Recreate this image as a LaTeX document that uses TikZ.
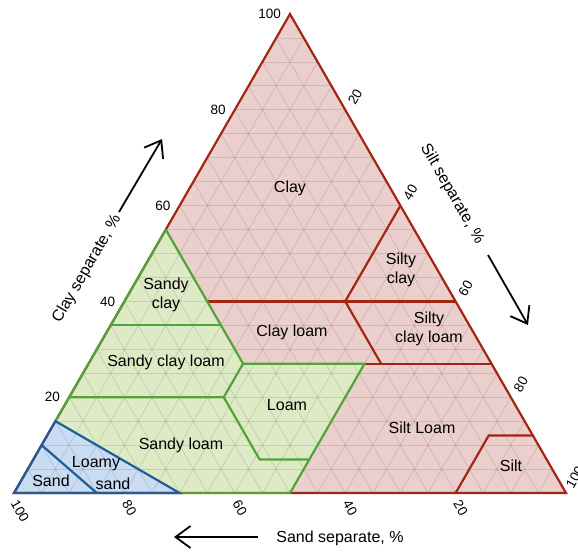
\documentclass[tikz,border=0pt]{standalone}
\usepackage{fontspec}
\setmainfont{Liberation Sans}
\usetikzlibrary{arrows.meta}
\definecolor{redfill}{HTML}{EBCFCC}
\definecolor{greenfill}{HTML}{DEEAC6}
\definecolor{bluefill}{HTML}{CADCF1}
\definecolor{redline}{HTML}{A32614}
\definecolor{greenline}{HTML}{52A43A}
\definecolor{blueline}{HTML}{1F5E98}
\newcommand\mkvtx[3]{\coordinate (#1) at ({bx(#2,#3)},{by(#2)});}
\begin{document}
\begin{tikzpicture}[x=1pt,y=-1pt,
  declare function={bx(\c,\t)=14+5.52*\t+2.76*\c; by(\c)=493-4.79*\c;},
  gridline/.style={line width=0.8pt, black, opacity=0.11},
  redb/.style={line width=2.2pt, redline},
  greenb/.style={line width=2.2pt, greenline},
  blueb/.style={line width=2.2pt, blueline},
  region/.style={font=\fontsize{16}{19}\selectfont, align=center, inner sep=0pt},
  tick/.style={font=\fontsize{13.5}{15}\selectfont, inner sep=0pt},
  axtitle/.style={font=\fontsize{16}{19}\selectfont, inner sep=0pt},
  axarrow/.style={line width=1.8pt, -{Straight Barb[length=15pt,width=22pt]}}]
\useasboundingbox (0,0) rectangle (578,552);
% vertices (clay, silt)
\mkvtx{BL}{0}{0}
\mkvtx{BR}{0}{100}
\mkvtx{T}{100}{0}
\mkvtx{c10t0}{10}{0}
\mkvtx{c0t15}{0}{15}
\mkvtx{c15t0}{15}{0}
\mkvtx{c0t30}{0}{30}
\mkvtx{c20t0}{20}{0}
\mkvtx{c20t28}{20}{28}
\mkvtx{c7t41}{7}{41}
\mkvtx{c7t50}{7}{50}
\mkvtx{c0t50}{0}{50}
\mkvtx{c27t28}{27}{28}
\mkvtx{c27t50}{27}{50}
\mkvtx{c35t0}{35}{0}
\mkvtx{c35t20}{35}{20}
\mkvtx{c55t0}{55}{0}
\mkvtx{c40t15}{40}{15}
\mkvtx{c40t40}{40}{40}
\mkvtx{c40t60}{40}{60}
\mkvtx{c60t40}{60}{40}
\mkvtx{c27t53}{27}{53}
\mkvtx{c27t73}{27}{73}
\mkvtx{c12t80}{12}{80}
\mkvtx{c12t88}{12}{88}
\mkvtx{c0t80}{0}{80}
% fills
\fill[redfill] (T) -- (BL) -- (BR) -- cycle;
\fill[greenfill] (c55t0) -- (c15t0) -- (c0t30) -- (c0t50) -- (c27t50) -- (c27t28) -- cycle;
\fill[bluefill] (BL) -- (c15t0) -- (c0t30) -- cycle;
% grid every 5 %
\foreach \k in {5,10,...,95} {
  \draw[gridline] ({bx(\k,0)},{by(\k)}) -- ({bx(\k,100-\k)},{by(\k)});
  \draw[gridline] ({bx(0,\k)},{by(0)}) -- ({bx(100-\k,\k)},{by(100-\k)});
  \draw[gridline] ({bx(0,100-\k)},{by(0)}) -- ({bx(100-\k,0)},{by(100-\k)});
}
% red borders
\draw[redb] (T) -- (BL) -- (BR) -- cycle;
\draw[redb] (c40t15) -- (c40t60);
\draw[redb] (c60t40) -- (c40t40) -- (c27t53);
\draw[redb] (c27t50) -- (c27t73);
\draw[redb] (c0t80) -- (c12t80) -- (c12t88);
% green borders
\draw[greenb] (c55t0) -- (c15t0);
\draw[greenb] (c0t30) -- (c0t50);
\draw[greenb] (c55t0) -- (c27t28) -- (c27t50) -- (c0t50);
\draw[greenb] (c35t0) -- (c35t20);
\draw[greenb] (c20t0) -- (c20t28) -- (c7t41) -- (c7t50);
\draw[greenb] (c20t28) -- (c27t28);
% blue borders
\draw[blueb] (BL) -- (c15t0) -- (c0t30) -- cycle;
\draw[blueb] (c10t0) -- (c0t15);
% region labels
\node[region] (lclay) at (290,188) {Clay};
\node[region] (lsiltyclay) at (401,270) {Silty\\clay};
\node[region] (lsiltyclayloam) at (429,329) {Silty\\clay loam};
\node[region] (lclayloam) at (292,332) {Clay loam};
\node[region] (lsandyclay) at (166,295) {Sandy\\clay};
\node[region] (lsandyclayloam) at (166,362) {Sandy clay loam};
\node[region] (lloam) at (287,405) {Loam};
\node[region] (lsiltloam) at (422,428) {Silt Loam};
\node[region] (lsilt) at (511,466) {Silt};
\node[region] (lsandyloam) at (181,445) {Sandy loam};
\node[region] (lloamy) at (96,464) {Loamy};
\node[region] (lsandw) at (113,484) {sand};
\node[region] (lsand) at (51,481) {Sand};
% left ticks (clay)
\foreach \c in {20,40,60,80,100}
  \node[tick, anchor=east] (cl\c) at ({bx(\c,0)-9},{by(\c)}) {\c};
% right ticks (silt)
\foreach \t in {20,40,60,80}
  \node[tick, rotate=60] (si\t) at ({bx(100-\t,\t)+10},{by(100-\t)-13}) {\t};
\node[tick, rotate=60] (si100) at ({bx(0,100)+9},{by(0)-16}) {100};
% bottom ticks (sand)
\foreach \s in {80,60,40,20}
  \node[tick, rotate=-60] (sa\s) at ({bx(0,100-\s)+5},{by(0)+15}) {\s};
\node[tick, rotate=-60] (sa100) at ({bx(0,0)+6},{by(0)+18}) {100};
% axis titles and arrows
\node[axtitle, rotate=60] (claytitle) at (87,269) {Clay separate, \%};
\node[axtitle, rotate=-60] (silttitle) at (452,194) {Silt separate, \%};
\node[axtitle] (sandtitle) at (340,538) {Sand separate, \%};
\coordinate (clayA) at (119,212);
\coordinate (clayB) at (162,139);
\coordinate (siltA) at (488,255);
\coordinate (siltB) at (528,325);
\coordinate (sandA) at (258,537);
\coordinate (sandB) at (174,537);
\draw[axarrow] (clayA) -- (clayB);
\draw[axarrow] (siltA) -- (siltB);
\draw[axarrow] (sandA) -- (sandB);
\end{tikzpicture}
\end{document}
